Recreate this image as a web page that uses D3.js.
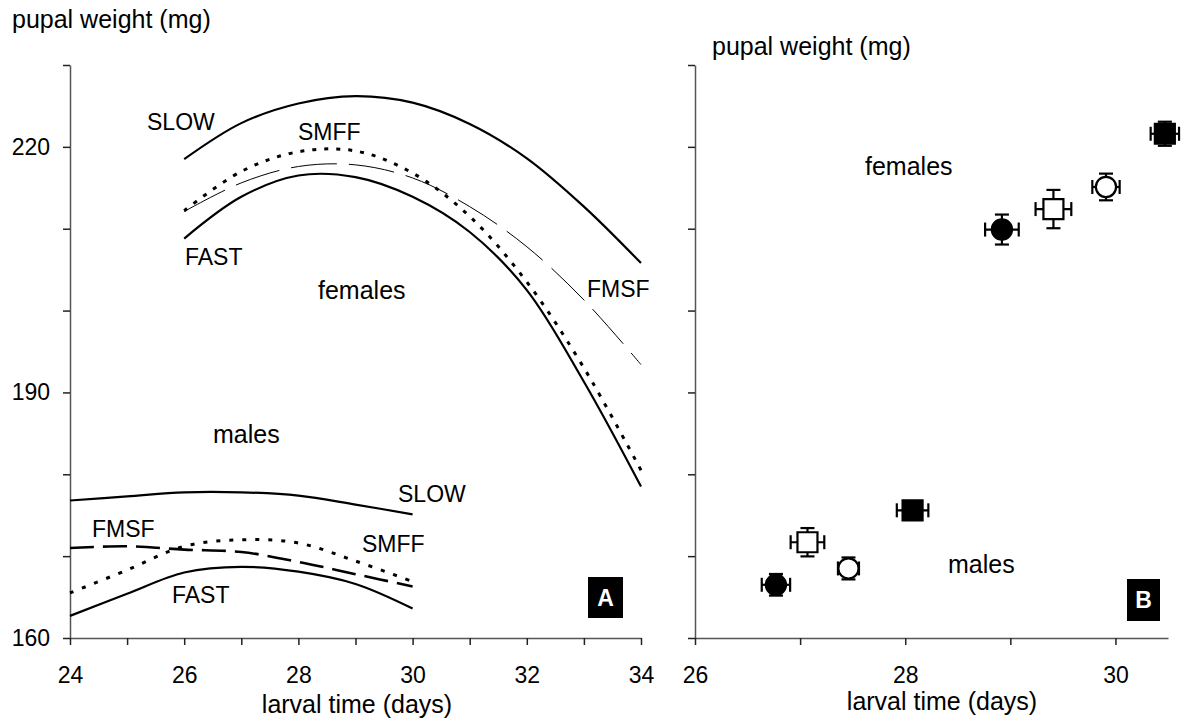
<!DOCTYPE html>
<html>
<head>
<meta charset="utf-8">
<script src="https://cdn.jsdelivr.net/npm/d3@7/dist/d3.min.js"></script>
<style>
  body { margin: 0; background: #fff; }
  svg { display: block; font-family: "Liberation Sans", Arial, sans-serif; }
  .axis .domain { stroke: #555; stroke-width: 1.5; }
  .axis line { stroke: #222; stroke-width: 1.5; }
  .axis text { font-size: 23px; fill: #000; }
</style>
</head>
<body>
<svg id="chart" width="1182" height="723"></svg>
<script>
// ---- data ----
// panel A: fitted curves, pupal weight (mg) by larval time (days)
const femaleDays = [26, 27, 28, 29, 30, 31, 32, 33, 34];
const femaleSlow = [218.5, 222.9, 225.3, 226.2, 225.4, 222.8, 218.6, 212.7, 205.8];
const femaleFast = [208.8, 213.9, 216.5, 216.3, 213.9, 209.6, 202.5, 191.3, 178.5];
const femaleSmff = [212.2, 217.0, 219.4, 219.5, 216.8, 211.5, 203.5, 193.0, 180.5];
const femaleFmsf = [212.1, 215.6, 217.6, 217.8, 216.2, 212.7, 207.8, 201.3, 193.4];

const maleDays = [24, 25, 26, 27, 28, 29, 30];
const maleSlow = [176.8, 177.3, 177.8, 177.8, 177.4, 176.3, 175.1];
const maleFast = [162.7, 165.4, 168.0, 168.7, 168.1, 166.6, 163.6];
const maleFmsf = [171.0, 171.2, 170.8, 170.5, 169.3, 167.8, 166.3];
const maleSmff = [165.5, 168.3, 171.2, 172.0, 171.6, 169.4, 166.9];

// panel B: group means with error bars
const groups = ["FAST", "FMSF", "SMFF", "SLOW"];
const groupSymbol = ["filledCircle", "openSquare", "openCircle", "filledSquare"];
const femaleTime = [28.92, 29.41, 29.91, 30.47];
const femaleTimeErr = [0.16, 0.17, 0.13, 0.135];
const femaleWeight = [209.9, 212.4, 215.1, 221.6];
const femaleWeightErr = [1.83, 2.34, 1.63, 1.47];
const maleTime = [26.77, 27.07, 27.46, 28.07];
const maleTimeErr = [0.135, 0.16, 0.10, 0.15];
const maleWeight = [166.5, 171.7, 168.5, 175.6];
const maleWeightErr = [1.32, 1.73, 1.34, 0.8];

const yTicks = [160, 170, 180, 190, 200, 210, 220, 230];
const yLabels = [160, 190, 220];
const xTicksA = [24, 25, 26, 27, 28, 29, 30, 31, 32, 33, 34];
const xLabelsA = [24, 26, 28, 30, 32, 34];
const xTicksB = [26, 27, 28, 29, 30];
const xLabelsB = [26, 28, 30];

const svg = d3.select("#chart");

// scales
const y = d3.scaleLinear().domain([160, 230]).range([638, 65]);
const xA = d3.scaleLinear().domain([24, 34]).range([70, 641]);
const xB = d3.scaleLinear().domain([26, 30.5]).range([695, 1168]);

// axes
function yAxis(x0, labelled) {
  const ax = d3.axisLeft(y).tickValues(yTicks).tickSize(7).tickSizeOuter(0).tickPadding(13)
    .tickFormat(d => labelled && yLabels.includes(d) ? d : "");
  svg.append("g").attr("class", "axis").attr("transform", `translate(${x0},0)`).call(ax);
}
function xAxis(scale, ticks, labels) {
  const ax = d3.axisBottom(scale).tickValues(ticks).tickSize(7).tickSizeOuter(0).tickPadding(22)
    .tickFormat(d => labels.includes(d) ? d : "");
  svg.append("g").attr("class", "axis").attr("transform", "translate(0,638)").call(ax);
}
yAxis(70, true);
xAxis(xA, xTicksA, xLabelsA);
yAxis(695, false);
xAxis(xB, xTicksB, xLabelsB);

// axis titles
svg.append("text").attr("x", 12).attr("y", 28).attr("font-size", 25).text("pupal weight (mg)");
svg.append("text").attr("x", 712).attr("y", 55).attr("font-size", 25).text("pupal weight (mg)");
svg.append("text").attr("x", 357).attr("y", 713).attr("font-size", 25).attr("text-anchor", "middle").text("larval time (days)");
svg.append("text").attr("x", 942).attr("y", 710).attr("font-size", 25).attr("text-anchor", "middle").text("larval time (days)");

// panel A curves
const line = d3.line().x(d => xA(d[0])).y(d => y(d[1])).curve(d3.curveCatmullRom.alpha(0.5));
function curve(days, vals, width, dash) {
  svg.append("path")
    .datum(days.map((d, i) => [d, vals[i]]))
    .attr("d", line)
    .attr("fill", "none")
    .attr("stroke", "#000")
    .attr("stroke-width", width)
    .attr("stroke-dasharray", dash);
}
curve(femaleDays, femaleSlow, 2.2, null);
curve(femaleDays, femaleFast, 2.2, null);
curve(femaleDays, femaleFmsf, 1, "46,12");
curve(femaleDays, femaleSmff, 3, "4,8");
curve(maleDays, maleSlow, 2.2, null);
curve(maleDays, maleFast, 2.2, null);
curve(maleDays, maleFmsf, 2.6, "24,9");
curve(maleDays, maleSmff, 3, "4,9");

// labels panel A
const capLabels = [
  ["SLOW", 147, 130], ["SMFF", 298, 140], ["FAST", 185, 265], ["FMSF", 587, 297],
  ["SLOW", 398, 502], ["SMFF", 362, 552], ["FMSF", 92, 537], ["FAST", 172, 603]
];
capLabels.forEach(([t, x, yy]) => svg.append("text").attr("x", x).attr("y", yy).attr("font-size", 23).text(t));
svg.append("text").attr("x", 318).attr("y", 299).attr("font-size", 25).text("females");
svg.append("text").attr("x", 213).attr("y", 443).attr("font-size", 25).text("males");
svg.append("text").attr("x", 865).attr("y", 175).attr("font-size", 25).text("females");
svg.append("text").attr("x", 948).attr("y", 573).attr("font-size", 25).text("males");

// panel tags
function tag(t, x, yy, w, h) {
  svg.append("rect").attr("x", x).attr("y", yy).attr("width", w).attr("height", h).attr("fill", "#000");
  svg.append("text").attr("x", x + w / 2).attr("y", yy + h / 2 + 8).attr("text-anchor", "middle")
    .attr("font-size", 23).attr("font-weight", "bold").attr("fill", "#fff").text(t);
}
tag("A", 588, 577, 35, 41);
tag("B", 1127, 579, 33, 42);

// panel B points with error bars
const cap = 7;
function points(time, timeErr, weight, weightErr) {
  const g = svg.append("g").attr("stroke", "#000").attr("stroke-width", 2.2);
  groups.forEach((name, i) => {
    const cx = xB(time[i]), cy = y(weight[i]);
    const x0 = xB(time[i] - timeErr[i]), x1 = xB(time[i] + timeErr[i]);
    const y0 = y(weight[i] + weightErr[i]), y1 = y(weight[i] - weightErr[i]);
    g.append("line").attr("x1", x0).attr("x2", x1).attr("y1", cy).attr("y2", cy);
    g.append("line").attr("x1", x0).attr("x2", x0).attr("y1", cy - cap).attr("y2", cy + cap);
    g.append("line").attr("x1", x1).attr("x2", x1).attr("y1", cy - cap).attr("y2", cy + cap);
    g.append("line").attr("x1", cx).attr("x2", cx).attr("y1", y0).attr("y2", y1);
    g.append("line").attr("x1", cx - cap).attr("x2", cx + cap).attr("y1", y0).attr("y2", y0);
    g.append("line").attr("x1", cx - cap).attr("x2", cx + cap).attr("y1", y1).attr("y2", y1);
    const s = groupSymbol[i];
    const type = s.endsWith("Circle") ? d3.symbolCircle : d3.symbolSquare;
    const size = s.endsWith("Circle") ? 320 : 400;
    g.append("path")
      .attr("d", d3.symbol().type(type).size(size)())
      .attr("transform", `translate(${cx},${cy})`)
      .attr("fill", s.startsWith("filled") ? "#000" : "#fff");
  });
}
points(femaleTime, femaleTimeErr, femaleWeight, femaleWeightErr);
points(maleTime, maleTimeErr, maleWeight, maleWeightErr);
</script>
</body>
</html>
